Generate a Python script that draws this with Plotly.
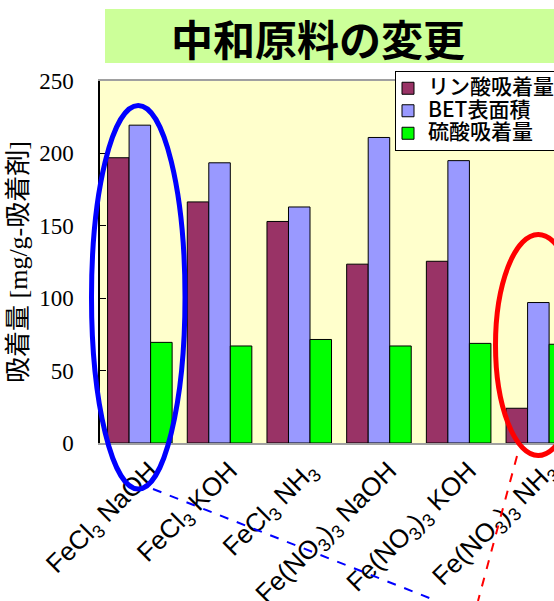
import plotly.graph_objects as go

# Categories (neutralizing-agent combinations) and series values
categories = [
    "FeCl<sub>3</sub> NaOH",
    "FeCl<sub>3</sub> KOH",
    "FeCl<sub>3</sub> NH<sub>3</sub>",
    "Fe(NO<sub>3</sub>)<sub>3</sub> NaOH",
    "Fe(NO<sub>3</sub>)<sub>3</sub> KOH",
    "Fe(NO<sub>3</sub>)<sub>3</sub> NH<sub>3</sub>",
]
phosphate = [197, 166.5, 153, 123.5, 125.5, 24]
bet_area = [219.5, 193.5, 163, 211, 195, 97]
sulfate = [69.5, 67, 71.5, 67, 68.8, 68.2]

series_names = ["リン酸吸着量", "BET表面積", "硫酸吸着量"]
series_colors = ["#993366", "#9999FF", "#00FF00"]

W, H = 554, 601
L, T, B = 100, 81, 158
PW, PH = W - L, H - T - B


def px_x(x):
    return (x - L) / PW


def px_y(y):
    return (H - B - y) / PH


fig = go.Figure()
for name, vals, col in zip(series_names, [phosphate, bet_area, sulfate], series_colors):
    fig.add_trace(go.Bar(
        x=categories, y=vals,
        name=f'<span style="font-size:21px">{name}</span>',
        marker=dict(color=col, line=dict(color="#000000", width=1)),
    ))

shapes = []
# title banner
shapes.append(dict(type="rect", xref="paper", yref="paper",
                   x0=px_x(105), x1=px_x(560), y0=px_y(63), y1=px_y(9),
                   fillcolor="#CCFF99", line=dict(width=0), layer="below"))
# highlight ellipses
shapes.append(dict(type="circle", xref="paper", yref="paper",
                   x0=px_x(91.5), x1=px_x(185), y0=px_y(489), y1=px_y(105.5),
                   line=dict(color="#0000FF", width=5)))
shapes.append(dict(type="circle", xref="paper", yref="paper",
                   x0=px_x(495.5), x1=px_x(581), y0=px_y(455.5), y1=px_y(234.5),
                   line=dict(color="#FF0000", width=5)))
# dashed leader lines
shapes.append(dict(type="line", xref="paper", yref="paper",
                   x0=px_x(153), y0=px_y(489), x1=px_x(437), y1=px_y(601),
                   line=dict(color="#0000FF", width=2, dash="dash")))
shapes.append(dict(type="line", xref="paper", yref="paper",
                   x0=px_x(517), y0=px_y(456), x1=px_x(478), y1=px_y(601),
                   line=dict(color="#FF0000", width=2, dash="dash")))

annotations = [
    dict(text="中和原料の変更", xref="paper", yref="paper",
         x=px_x(318), y=px_y(37), xanchor="center", yanchor="middle",
         showarrow=False,
         font=dict(family="Noto Sans CJK JP", size=42, color="#000000", weight="bold")),
    dict(text="吸着量 [mg/g-吸着剤]", xref="paper", yref="paper",
         x=px_x(18), y=0.5, xanchor="center", yanchor="middle",
         textangle=-90, showarrow=False,
         font=dict(family="Liberation Serif, Noto Sans CJK JP", size=26, color="#000000")),
]

fig.update_layout(
    width=W, height=H,
    margin=dict(l=L, r=0, t=T, b=B, autoexpand=False),
    paper_bgcolor="#FFFFFF",
    plot_bgcolor="#FFFFCC",
    barmode="group",
    bargap=0.19,
    bargroupgap=0,
    shapes=shapes,
    annotations=annotations,
    showlegend=True,
    legend=dict(
        x=px_x(395), y=px_y(71), xanchor="left", yanchor="top",
        bgcolor="#FFFFFF", bordercolor="#000000", borderwidth=1,
        font=dict(family="Noto Sans CJK JP", size=15, color="#000000", weight=500),
        itemwidth=30, tracegroupgap=0, indentation=-8,
    ),
    xaxis=dict(
        type="category", range=[-0.5, -0.5 + PW / 79.7],
        showline=True, linecolor="#A0A0A0", linewidth=2, mirror=True,
        ticks="", tickangle=-45, ticklabelshift=10,
        tickfont=dict(family="Liberation Sans", size=26, color="#000000"),
        automargin=False, showgrid=False,
    ),
    yaxis=dict(
        range=[0, 250], dtick=50,
        showline=True, linecolor="#000000", linewidth=1.5,
        ticks="inside", ticklen=6, tickcolor="#000000",
        ticklabelstandoff=20,
        tickfont=dict(family="Liberation Serif", size=23, color="#000000"),
        showgrid=False, zeroline=False, automargin=False,
    ),
)

fig.write_html("out.html")
